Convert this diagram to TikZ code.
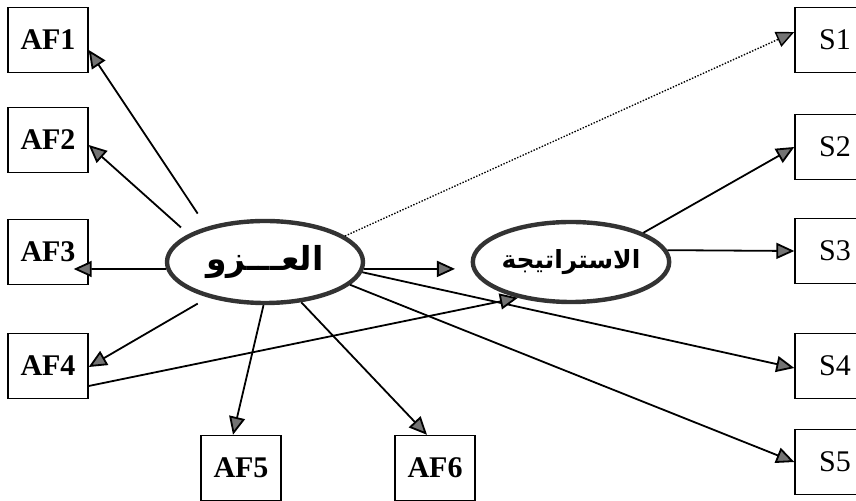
\documentclass[tikz,border=0pt]{standalone}
\usepackage{fontspec}
\setmainfont{Liberation Serif}
\newfontfamily\arabicfont[Script=Arabic]{DejaVu Sans}
\TeXXeTstate=1
\usetikzlibrary{arrows.meta,shapes,positioning}
\tikzset{arrows={-{Triangle[length=9pt,width=8pt,fill=black!55]}}}
\newcommand{\artext}[1]{{\arabicfont\bfseries\beginR #1\endR}}

\begin{document}
\begin{tikzpicture}[x=0.5pt, y=-0.5pt,
    box/.style={draw, line width=0.7pt, minimum width=40pt, minimum height=32.5pt,
      inner sep=0pt, font=\fontsize{15}{17}\selectfont\bfseries},
    sbox/.style={box, font=\fontsize{15}{17}\selectfont},
    latent/.style={ellipse, draw=black!80, line width=2.2pt, inner sep=0pt},
    link/.style={line width=0.9pt}]
    \useasboundingbox (0,0) rectangle (856,501);

    \node[latent, minimum width=98pt, minimum height=41pt,
      font=\fontsize{16.5}{18}\selectfont] (attr) at (265,262) {\artext{العـــزو}};
    \node[latent, minimum width=96.5pt, minimum height=40pt,
      font=\fontsize{12.5}{14}\selectfont] (strat) at (571,262) {\artext{الاستراتيجة}};

      \node[box] (af1) at (48,40) {AF1};
      \node[box] (af2) at (48,140) {AF2};
      \node[box] (af3) at (48,252) {AF3};
      \node[box] (af4) at (48,366) {AF4};
      \node[box] (af5) at (241,468) {AF5};
      \node[box] (af6) at (435,468) {AF6};

      \node[sbox] (s1) at (835,40) {S1};
      \node[sbox] (s2) at (835,147) {S2};
      \node[sbox] (s3) at (835,251) {S3};
      \node[sbox] (s4) at (835,366) {S4};
      \node[sbox] (s5) at (835,462) {S5};

    \draw[link, shorten <=8pt] (attr.149) -- ([yshift=-5pt]af1.east);
    \draw[link, shorten <=5pt] (attr.160) -- ([yshift=-2.5pt]af2.east);
    \draw[link] (attr.184) -- ([xshift=-7.5pt,yshift=-8.5pt]af3.east);
    \draw[link, shorten <=6pt] (attr.212) -- ([yshift=-0.5pt]af4.east);
    \draw[link] (attr.268) -- ([xshift=-4pt]af5.north);
    \draw[link] (attr.312) -- ([xshift=-4pt]af6.north);
    \draw[link] (attr.354) -- ([yshift=-1pt]s4.west);
    \draw[link] (attr.345) -- (s5.west);
    \draw[link, shorten >=8.5pt] (attr.356) -- (strat.184);
    \draw[line width=0.7pt, dash pattern=on 0.7pt off 0.8pt] (attr.18) -- ([yshift=4pt]s1.west);
    \draw[link] ([yshift=-10pt]af4.east) -- (strat.214);
    \draw[link] (strat.22) -- (s2.west);
    \draw[link] (strat.7) -- (s3.west);
\end{tikzpicture}
\end{document}
